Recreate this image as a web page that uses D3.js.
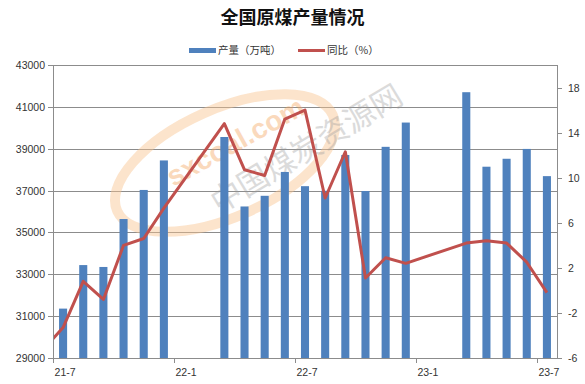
<!DOCTYPE html>
<html><head><meta charset="utf-8">
<script src="https://cdn.jsdelivr.net/npm/d3@7"></script>
<style>
html,body{margin:0;padding:0;background:#fff;}
svg{display:block;}
</style></head>
<body>
<script>
// ---- data ----
const months = ["21-6","21-7","21-8","21-9","21-10","21-11","21-12","22-1","22-2","22-3","22-4","22-5","22-6","22-7","22-8","22-9","22-10","22-11","22-12","23-1","23-2","23-3","23-4","23-5","23-6","23-7"];
const output = [null,31360,33440,33350,35640,37030,38440,null,null,39560,36240,36750,37890,37210,36990,38700,36980,39090,40250,null,null,41700,38140,38520,38990,37690];
const yoy = [-5.3,-3.3,0.8,-0.8,4.0,4.6,7.3,null,null,14.8,10.7,10.2,15.2,16.0,8.2,12.3,1.1,2.9,2.4,null,null,4.2,4.4,4.2,2.5,-0.2];
const xTickLabels = ["21-7","22-1","22-7","23-1","23-7"];
const leftTicks = [29000,31000,33000,35000,37000,39000,41000,43000];
const rightTicks = [-6,-2,2,6,10,14,18];
const title = "全国原煤产量情况";
const legendNames = ["产量（万吨）","同比（%）"];

const W = 585, H = 384;
const L = 53, R = 557, T = 65, B = 358;
const barColor = "#4F81BD", lineColor = "#C0504D", gridColor = "#8c8c8c";
const font = "'Liberation Sans', Arial, sans-serif";
const cjk = "'Noto Sans CJK SC', sans-serif";

const svg = d3.select("body").append("svg").attr("width", W).attr("height", H);

// scales (first month lies one band left of the plot, clipped)
const nVisible = months.length - 1;
const x = d3.scaleBand().domain(months).range([L - (R - L) / nVisible, R]);
const yL = d3.scaleLinear().domain([29000, 43000]).range([B, T]);
const yR = d3.scaleLinear().domain([-6, 20]).range([B, T]);

// title
svg.append("text").attr("x", W / 2).attr("y", 24).attr("text-anchor", "middle")
  .style("font-family", cjk).style("font-weight", "bold").style("font-size", "18px").attr("fill", "#111")
  .text(title);

// legend
const lg = svg.append("g").style("font-family", cjk).style("font-size", "10.5px").attr("fill", "#333");
lg.append("rect").attr("x", 189).attr("y", 48).attr("width", 27).attr("height", 5).attr("fill", barColor);
lg.append("text").attr("x", 218).attr("y", 54).text(legendNames[0]);
lg.append("line").attr("x1", 298).attr("x2", 325).attr("y1", 50.5).attr("y2", 50.5).attr("stroke", lineColor).attr("stroke-width", 3);
lg.append("text").attr("x", 327).attr("y", 54).text(legendNames[1]);

// gridlines
svg.append("g").selectAll("line").data(leftTicks).join("line")
  .attr("x1", L).attr("x2", R).attr("y1", d => Math.round(yL(d)) + 0.5).attr("y2", d => Math.round(yL(d)) + 0.5)
  .attr("stroke", gridColor).attr("stroke-width", 1);

// watermark
const wm = svg.append("g").attr("pointer-events", "none");
wm.append("ellipse").attr("cx", 225).attr("cy", 163).attr("rx", 118).attr("ry", 54)
  .attr("transform", "rotate(-24,225,163)")
  .attr("fill", "none").attr("stroke", "#f8c48f").attr("stroke-width", 10).attr("opacity", 0.45);
wm.append("text").attr("x", 240).attr("y", 150).attr("text-anchor", "middle")
  .attr("transform", "rotate(-29,240,150)")
  .style("font-family", font).style("font-weight", "bold").style("font-size", "28px")
  .attr("fill", "#f4a259").attr("opacity", 0.4).text("sxcoal.com");
wm.append("text").attr("x", 312).attr("y", 158).attr("text-anchor", "middle")
  .attr("transform", "rotate(-31,312,158)")
  .style("font-family", cjk).style("font-size", "31px")
  .attr("fill", "#9a9a9a").attr("opacity", 0.35).text("中国煤炭资源网");

// clip
svg.append("clipPath").attr("id", "plotclip").append("rect")
  .attr("x", L).attr("y", T).attr("width", R - L).attr("height", B - T);

// bars
const bw = x.bandwidth() * 0.4;
const data = months.map((m, i) => ({ m, v: output[i], p: yoy[i] }));
svg.append("g").attr("clip-path", "url(#plotclip)").selectAll("rect")
  .data(data.filter(d => d.v != null)).join("rect")
  .attr("x", d => x(d.m) + x.bandwidth() / 2 - bw / 2)
  .attr("width", bw)
  .attr("y", d => yL(d.v))
  .attr("height", d => B - yL(d.v))
  .attr("fill", barColor);

// line
const line = d3.line().x(d => x(d.m) + x.bandwidth() / 2).y(d => yR(d.p));
svg.append("path").attr("clip-path", "url(#plotclip)")
  .datum(data.filter(d => d.p != null))
  .attr("d", line).attr("fill", "none").attr("stroke", lineColor)
  .attr("stroke-width", 3).attr("stroke-linejoin", "round");

// axes lines
const ax = svg.append("g").attr("stroke", gridColor).attr("stroke-width", 1);
ax.append("line").attr("x1", L + 0.5).attr("x2", L + 0.5).attr("y1", T).attr("y2", B + 0.5);
ax.append("line").attr("x1", R + 0.5).attr("x2", R + 0.5).attr("y1", T).attr("y2", B + 0.5);
ax.append("line").attr("x1", L).attr("x2", R + 1).attr("y1", B + 0.5).attr("y2", B + 0.5);

// left ticks/labels
const lt = svg.append("g");
lt.selectAll("line").data(leftTicks).join("line")
  .attr("x1", L - 5).attr("x2", L).attr("y1", d => Math.round(yL(d)) + 0.5).attr("y2", d => Math.round(yL(d)) + 0.5)
  .attr("stroke", gridColor);
lt.selectAll("text").data(leftTicks).join("text")
  .attr("x", L - 8).attr("y", d => yL(d) + 4).attr("text-anchor", "end")
  .style("font-family", font).style("font-size", "10.5px").attr("fill", "#333").text(d => d);

// right ticks/labels
const rt = svg.append("g");
rt.selectAll("line").data(rightTicks).join("line")
  .attr("x1", R).attr("x2", R + 5).attr("y1", d => Math.round(yR(d)) + 0.5).attr("y2", d => Math.round(yR(d)) + 0.5)
  .attr("stroke", gridColor);
rt.selectAll("text").data(rightTicks).join("text")
  .attr("x", R + 11).attr("y", d => yR(d) + 4).attr("text-anchor", "start")
  .style("font-family", font).style("font-size", "10.5px").attr("fill", "#333").text(d => d);

// bottom ticks/labels
const bt = svg.append("g");
bt.selectAll("line").data(xTickLabels).join("line")
  .attr("x1", d => Math.round(x(d)) + 0.5).attr("x2", d => Math.round(x(d)) + 0.5)
  .attr("y1", B).attr("y2", B + 5).attr("stroke", gridColor);
bt.selectAll("text").data(xTickLabels).join("text")
  .attr("x", d => x(d) + x.bandwidth() / 2 + 2).attr("y", B + 18).attr("text-anchor", "middle")
  .style("font-family", font).style("font-size", "10.5px").attr("fill", "#333").text(d => d);
</script>
</body></html>
